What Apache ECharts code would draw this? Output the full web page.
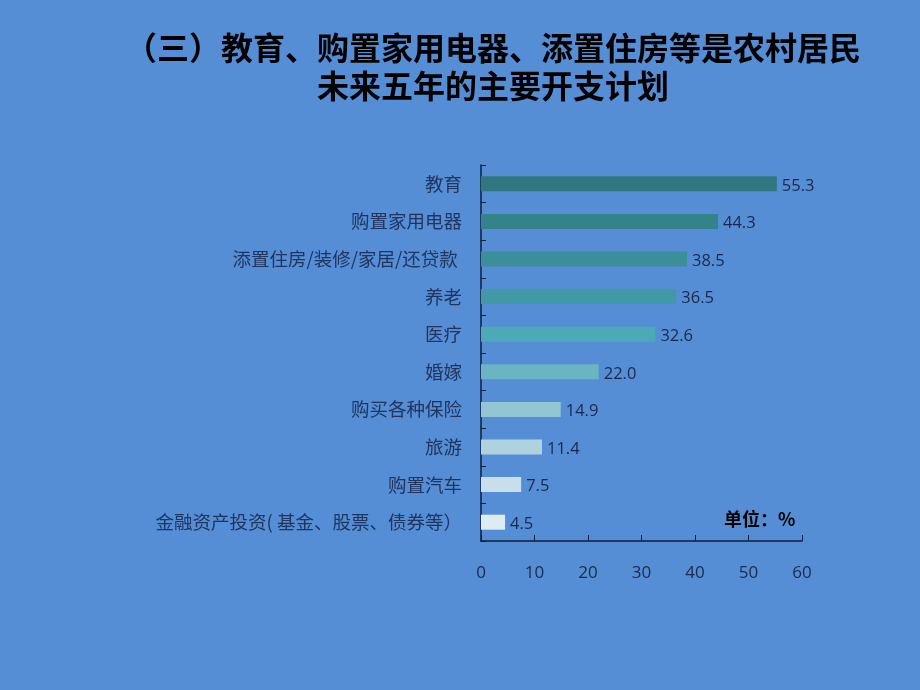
<!DOCTYPE html>
<html><head><meta charset="utf-8">
<script src="https://cdn.jsdelivr.net/npm/echarts@6/dist/echarts.min.js"></script>
<style>html,body{margin:0;padding:0;background:#558ED5;}#c{width:920px;height:690px;}</style>
</head><body><div id="c"></div>
<script>
const categories = ['教育','购置家用电器','添置住房/装修/家居/还贷款 ','养老','医疗','婚嫁','购买各种保险','旅游','购置汽车','金融资产投资( 基金、股票、债券等）'];
const values = [55.3,44.3,38.5,36.5,32.6,22.0,14.9,11.4,7.5,4.5];
const barColors = ['#31777F','#34838B','#3A8F99','#4199A5','#4BA9B8','#6AB4C3','#93C6D3','#AFD2DF','#C8DFEB','#DDEBF3'];
const titleText = '（三）教育、购置家用电器、添置住房等是农村居民\n未来五年的主要开支计划';
const unitText = '单位：%';

const chart = echarts.init(document.getElementById('c'));
chart.setOption({
  backgroundColor: '#558ED5',
  animation: false,
  title: {
    text: titleText,
    left: 488, top: 24, textAlign: 'center',
    textStyle: {fontFamily: 'Noto Sans CJK SC', fontWeight: 'bold', fontSize: 32, lineHeight: 38, color: '#000'}
  },
  graphic: [{
    type: 'text', left: 724, top: 510,
    style: {text: unitText, fontFamily: 'Noto Sans CJK SC', fontWeight: 'bold', fontSize: 18, fill: '#000'}
  }],
  grid: {left: 481, top: 165, width: 321, height: 376, containLabel: false},
  xAxis: {
    type: 'value', min: 0, max: 60, interval: 10,
    axisLine: {show: true, lineStyle: {color: '#0F1E3C', width: 1.5}},
    axisTick: {show: true, inside: true, length: 6, lineStyle: {color: '#0F1E3C'}},
    splitLine: {show: false},
    axisLabel: {margin: 24, fontFamily: 'Open Sans', fontSize: 17, color: '#1A2B4C'}
  },
  yAxis: {
    type: 'category', data: categories, inverse: true,
    axisLine: {show: true, lineStyle: {color: '#0F1E3C', width: 1.5}},
    axisTick: {show: true, inside: true, length: 5, alignWithLabel: false, lineStyle: {color: '#0F1E3C'}},
    axisLabel: {margin: 19, fontFamily: 'Noto Sans CJK SC', fontWeight: 'normal', fontSize: 18.5, color: '#1F3560'}
  },
  series: [{
    type: 'bar',
    data: values.map((v, i) => ({value: v, itemStyle: {color: barColors[i]}})),
    barWidth: 15,
    label: {show: true, position: 'right', distance: 5, offset: [0, 2], formatter: p => p.value.toFixed(1),
      fontFamily: 'Open Sans', fontSize: 16.5, color: '#172A4E'}
  }]
});
</script></body></html>
